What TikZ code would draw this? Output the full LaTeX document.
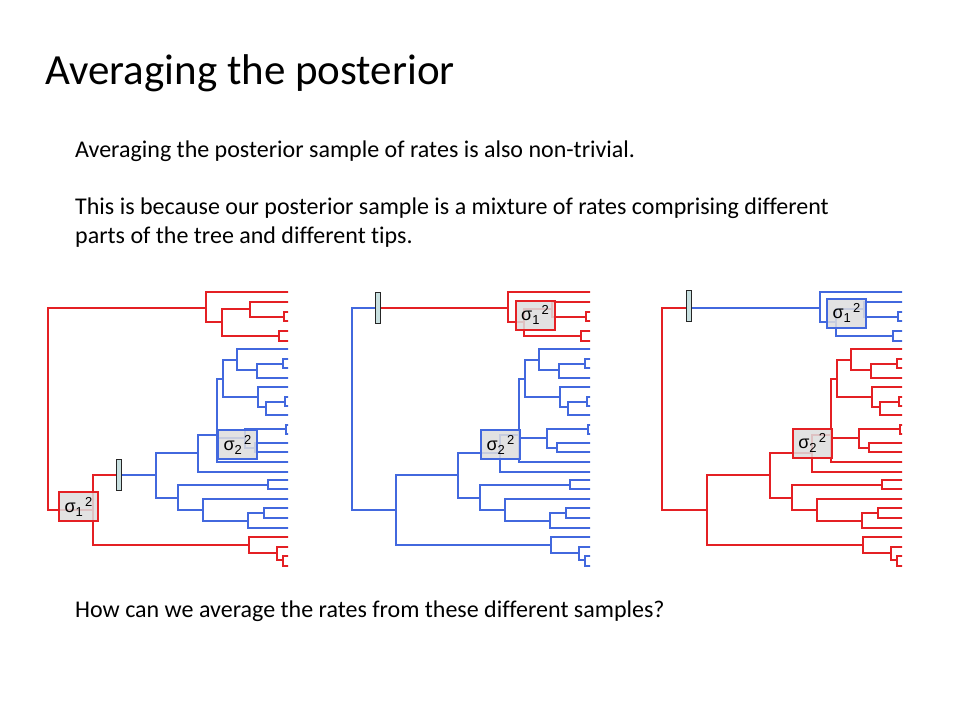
\documentclass[tikz,border=0pt]{standalone}
\usepackage{fontspec}
\setmainfont{Carlito}[Ligatures=NoCommon]
\newfontfamily\sigfont{Liberation Sans}
\definecolor{tred}{RGB}{228,32,36}
\definecolor{tblue}{RGB}{66,104,222}
\definecolor{boxfill}{RGB}{222,222,222}
\definecolor{barfill}{RGB}{200,224,224}
\tikzset{
  tl/.style={line width=2, line cap=rect},
  sbox/.style={draw, line width=2, fill=boxfill, fill opacity=0.85, text opacity=1,
    minimum width=39, minimum height=29, inner sep=0, font=\sigfont\fontsize{18}{18}\selectfont},
  barnode/.style={draw=black!85, line width=1.2, fill=barfill, minimum width=5.5, minimum height=31, inner sep=0},
  bodytext/.style={anchor=base west, inner sep=0, font=\fontsize{24}{29}\selectfont},
}
\newcommand{\sigone}{σ\raisebox{-4pt}{\fontsize{13}{13}\selectfont 1}\raisebox{6pt}{\fontsize{13}{13}\selectfont\,2}}
\newcommand{\sigtwo}{σ\raisebox{-4pt}{\fontsize{13}{13}\selectfont 2}\raisebox{6pt}{\fontsize{13}{13}\selectfont\,2}}
\newcommand{\topclade}[1]{%
 \draw[tl,#1] (206,292)--(206,322) (206,292)--(300,292) (206,322)--(222,322)
 (222,309)--(222,336) (222,309)--(250,309) (250,302)--(250,317) (250,302)--(300,302)
 (250,317)--(284,317) (284,312)--(284,321) (284,312)--(300,312) (284,321)--(300,321)
 (222,336)--(279,336) (279,331)--(279,341) (279,331)--(300,331) (279,341)--(300,341);}
\newcommand{\midclade}[1]{%
 \draw[tl,#1] (223,360)--(223,397) (223,360)--(237,360) (237,349)--(237,370) (237,349)--(300,349)
 (237,370)--(257,370) (257,364)--(257,378) (257,364)--(283,364) (283,359)--(283,368)
 (283,359)--(300,359) (283,368)--(300,368) (257,378)--(300,378)
 (223,397)--(258,397) (258,387)--(258,407) (258,387)--(300,387)
 (258,407)--(266,407) (266,402)--(266,415) (266,402)--(285,402) (285,397)--(285,406)
 (285,397)--(300,397) (285,406)--(300,406) (266,415)--(300,415)
 (217,379)--(217,462) (217,379)--(223,379)
 (217,438)--(245,438) (245,429)--(245,448) (245,429)--(286,429) (286,425)--(286,434)
 (286,425)--(300,425) (286,434)--(300,434) (245,448)--(255,448) (255,443)--(255,452)
 (255,443)--(300,443) (255,452)--(300,452) (217,462)--(300,462)
 (198,435)--(198,472) (198,435)--(217,435) (198,472)--(300,472)
 (156,453)--(156,498) (156,453)--(198,453) (156,498)--(178,498)
 (178,485)--(178,510) (178,485)--(268,485) (268,480)--(268,489) (268,480)--(300,480) (268,489)--(300,489)
 (178,510)--(203,510) (203,499)--(203,521) (203,499)--(300,499)
 (203,521)--(248,521) (248,513)--(248,528) (248,513)--(264,513)
 (264,508)--(264,518) (264,508)--(300,508) (264,518)--(300,518) (248,528)--(300,528);}
\newcommand{\botclade}[1]{%
 \draw[tl,#1] (249,537)--(249,553) (249,537)--(300,537) (249,553)--(277,553)
 (277,547)--(277,560) (277,547)--(300,547) (277,560)--(283,560) (283,556)--(283,566)
 (283,556)--(300,556) (283,566)--(300,566);}
\begin{document}
\begin{tikzpicture}[x=1pt,y=-1pt]
\fill[white] (0,0) rectangle (960,720);
\useasboundingbox (0,0) rectangle (960,720);
% texts
\node[anchor=base west, inner sep=0, font=\fontsize{43}{50}\selectfont] (title) at (45,84) {Averaging the posterior};
\node[bodytext] (l1) at (75,157) {Averaging the posterior sample of rates is also non-trivial.};
\node[bodytext] (l2) at (75,214) {This is because our posterior sample is a mixture of rates comprising different};
\node[bodytext] (l3) at (75,243) {parts of the tree and different tips.};
\node[bodytext] (q) at (75,617) {How can we average the rates from these different samples?};
% ---------- tree 1 ----------
\begin{scope}
 \clip (100,280) rectangle (288,580);
 \topclade{tred}\midclade{tblue}\botclade{tred}
\end{scope}
\draw[tl,tred] (48,308)--(48,510) (48,308)--(206,308) (48,510)--(93,510)
  (93,475)--(93,545) (93,545)--(249,545) (93,475)--(119,475);
\draw[tl,tblue] (119,475)--(156,475);
\node[barnode, minimum height=31.7] (bar1) at (119,475) {};
\node[sbox, draw=tred] (s1a) at (78.5,506.5) {\sigone};
\node[sbox, draw=tblue] (s2a) at (237.5,444.5) {\sigtwo};
% ---------- tree 2 ----------
\begin{scope}[xshift=302]
 \clip (100,280) rectangle (288,580);
 \topclade{tred}\midclade{tblue}\botclade{tblue}
\end{scope}
\draw[tl,tblue] (352,308)--(352,510) (352,308)--(378,308) (352,510)--(396,510)
  (396,475)--(396,545) (396,475)--(458,475) (396,545)--(551,545);
\draw[tl,tred] (378,308)--(508,308);
\node[barnode] (bar2) at (378,308) {};
\node[sbox, draw=tred] (s1b) at (535,315) {\sigone};
\node[sbox, draw=tblue] (s2b) at (500.5,444.5) {\sigtwo};
% ---------- tree 3 ----------
\begin{scope}[xshift=614]
 \clip (100,280) rectangle (288,580);
 \topclade{tblue}\midclade{tred}\botclade{tred}
\end{scope}
\draw[tl,tred] (662,308)--(662,510) (662,308)--(689,308) (662,510)--(707,510)
  (707,475)--(707,545) (707,475)--(770,475) (707,545)--(863,545);
\draw[tl,tblue] (689,308)--(820,308);
\node[barnode, minimum height=30.3] (bar3) at (689,306) {};
\node[sbox, draw=tblue] (s1c) at (846.4,313.4) {\sigone};
\node[sbox, draw=tred] (s2c) at (812.2,443.2) {\sigtwo};
\end{tikzpicture}
\end{document}
